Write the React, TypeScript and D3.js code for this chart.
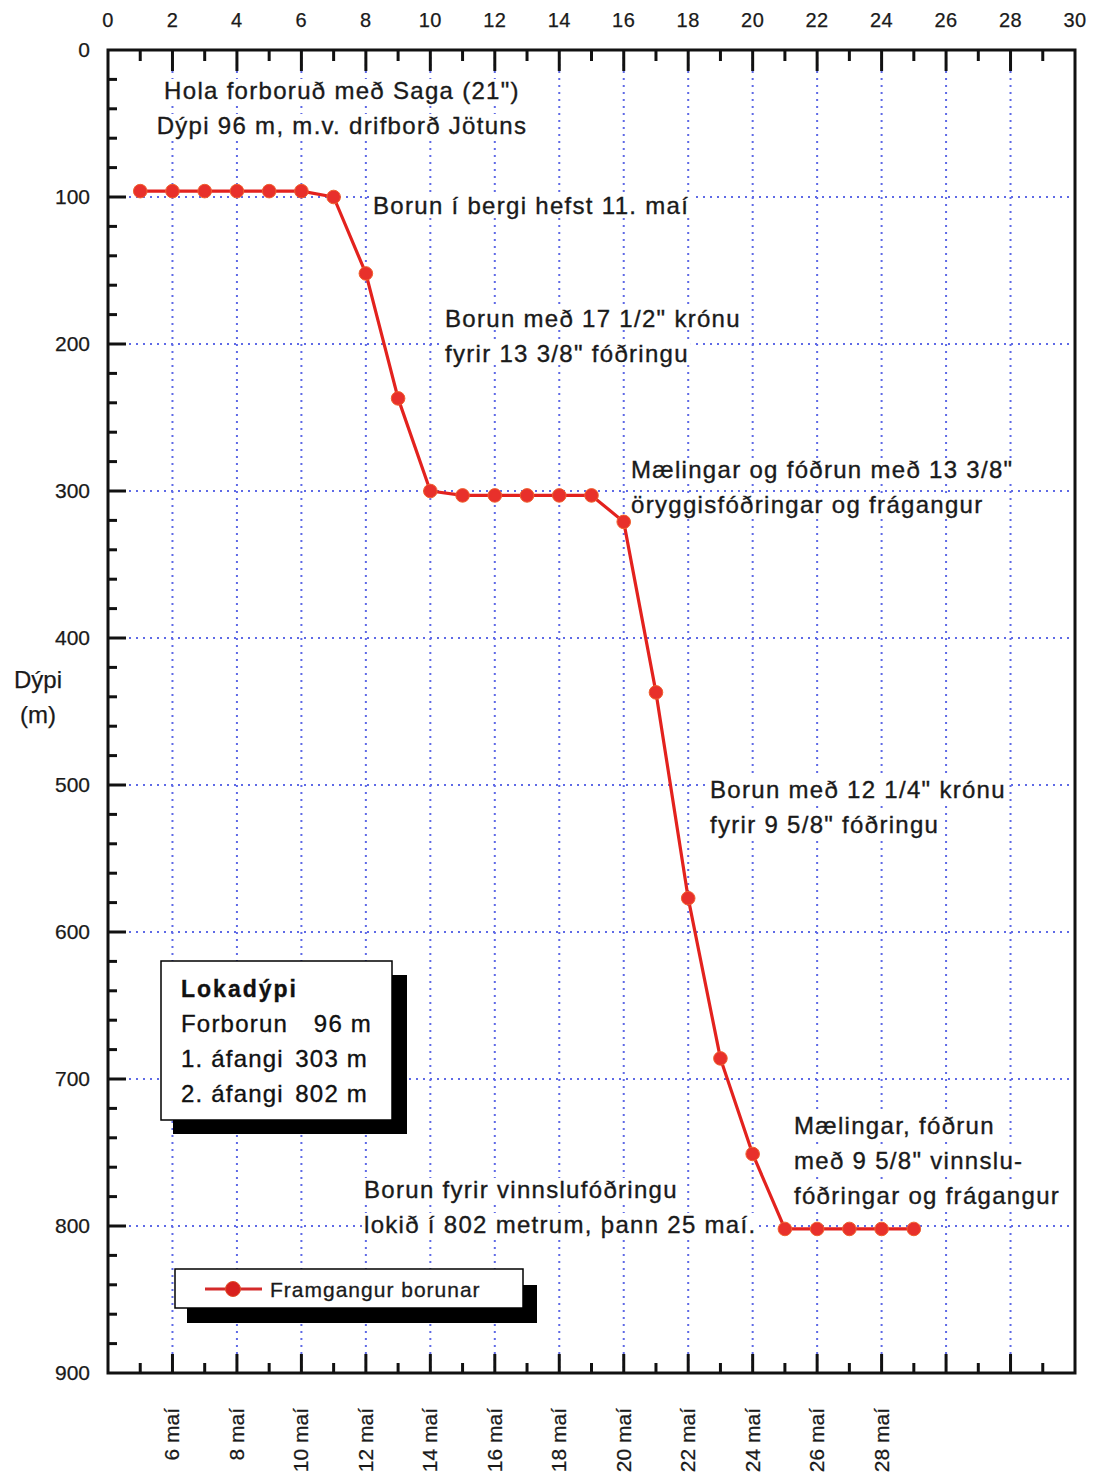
import React, { useEffect, useRef } from 'react';
import * as d3 from 'd3';

// ---- data ----
const dayIndex = [1, 2, 3, 4, 5, 6, 7, 8, 9, 10, 11, 12, 13, 14, 15, 16, 17, 18, 19, 20, 21, 22, 23, 24, 25];
const depthValues = [96, 96, 96, 96, 96, 96, 100, 152, 237, 300, 303, 303, 303, 303, 303, 321, 437, 577, 686, 751, 802, 802, 802, 802, 802];
const topTickValues = [0, 2, 4, 6, 8, 10, 12, 14, 16, 18, 20, 22, 24, 26, 28, 30];
const depthTickValues = [0, 100, 200, 300, 400, 500, 600, 700, 800, 900];
const gridXValues = [2, 4, 6, 8, 10, 12, 14, 16, 18, 20, 22, 24, 26, 28];
const gridYValues = [100, 200, 300, 400, 500, 600, 700, 800];
const dateTickValues = [2, 4, 6, 8, 10, 12, 14, 16, 18, 20, 22, 24];
const dateLabels = ['6 maí', '8 maí', '10 maí', '12 maí', '14 maí', '16 maí', '18 maí', '20 maí', '22 maí', '24 maí', '26 maí', '28 maí'];
const seriesName = 'Framgangur borunar';
const yAxisTitle = ['Dýpi', '(m)'];
const summaryTitle = 'Lokadýpi';
const summaryRows = [
  ['Forborun', '96 m'],
  ['1. áfangi', '303 m'],
  ['2. áfangi', '802 m'],
];

const FONT = '"Liberation Sans", Arial, Helvetica, sans-serif';

const W = 1094;
const H = 1479;
const M = { left: 108, right: 1075, top: 50, bottom: 1373 };

type Note = { lines: string[]; x: number; y: number; anchor?: string };
const notes: Note[] = [
  { lines: ['Hola forboruð með Saga (21")', 'Dýpi 96 m, m.v. drifborð Jötuns'], x: 342, y: 99, anchor: 'middle' },
  { lines: ['Borun í bergi hefst 11. maí'], x: 373, y: 214 },
  { lines: ['Borun með 17 1/2" krónu', 'fyrir 13 3/8" fóðringu'], x: 445, y: 327 },
  { lines: ['Mælingar og fóðrun með 13 3/8"', 'öryggisfóðringar og frágangur'], x: 631, y: 478 },
  { lines: ['Borun með 12 1/4" krónu', 'fyrir 9 5/8" fóðringu'], x: 710, y: 798 },
  { lines: ['Mælingar, fóðrun', 'með 9 5/8" vinnslu-', 'fóðringar og frágangur'], x: 794, y: 1134 },
  { lines: ['Borun fyrir vinnslufóðringu', 'lokið í 802 metrum, þann 25 maí.'], x: 364, y: 1198 },
];

export default function App() {
  const ref = useRef<SVGSVGElement | null>(null);

  useEffect(() => {
    const svg = d3.select(ref.current);
    svg.selectAll('*').remove();

    const x = d3.scaleLinear().domain([0, 30]).range([M.left, M.right]);
    const y = d3.scaleLinear().domain([0, 900]).range([M.top, M.bottom]);

    svg.append('rect').attr('width', W).attr('height', H).attr('fill', '#fff');

    // grid
    const grid = svg.append('g').attr('stroke', '#5f6ae6').attr('stroke-width', 2).attr('stroke-dasharray', '2,5');
    grid.selectAll('line.gx').data(gridXValues).join('line')
      .attr('x1', (d) => x(d)).attr('x2', (d) => x(d))
      .attr('y1', M.top).attr('y2', M.bottom);
    grid.selectAll('line.gy').data(gridYValues).join('line')
      .attr('x1', M.left).attr('x2', M.right)
      .attr('y1', (d) => y(d)).attr('y2', (d) => y(d));

    // annotations with white backgrounds
    const bgLayer = svg.append('g');
    const textLayer = svg.append('g').attr('font-family', FONT).attr('fill', '#1a1a1a')
      .attr('stroke', '#1a1a1a').attr('stroke-width', 0.35);
    notes.forEach((n) => {
      n.lines.forEach((line, i) => {
        const t = textLayer.append('text')
          .attr('x', n.x).attr('y', n.y + i * 35)
          .attr('font-size', 24)
          .attr('letter-spacing', 1.3)
          .attr('text-anchor', n.anchor || 'start')
          .text(line);
        const bb = (t.node() as SVGTextElement).getBBox();
        bgLayer.append('rect')
          .attr('x', bb.x - 2).attr('y', bb.y + 2)
          .attr('width', bb.width + 4).attr('height', bb.height - 4)
          .attr('fill', '#fff');
      });
    });

    // summary box
    const sb = svg.append('g').attr('font-family', FONT).attr('fill', '#111').attr('stroke', '#111').attr('stroke-width', 0.35);
    sb.append('rect').attr('x', 173).attr('y', 975).attr('width', 234).attr('height', 159).attr('fill', '#000').attr('stroke', 'none');
    sb.append('rect').attr('x', 161).attr('y', 961).attr('width', 231).attr('height', 159)
      .attr('fill', '#fff').attr('stroke', '#000').attr('stroke-width', 1.5);
    sb.append('text').attr('x', 181).attr('y', 997).attr('font-size', 23).attr('font-weight', 'bold')
      .attr('letter-spacing', 2).text(summaryTitle);
    summaryRows.forEach((r, i) => {
      sb.append('text').attr('x', 181).attr('y', 1032 + i * 35).attr('font-size', 24).attr('letter-spacing', 1.2).text(r[0]);
      sb.append('text').attr('x', i === 0 ? 372 : 368).attr('y', 1032 + i * 35).attr('font-size', 24)
        .attr('letter-spacing', 1.2).attr('text-anchor', 'end').text(r[1]);
    });

    // legend box
    const lg = svg.append('g').attr('font-family', FONT);
    lg.append('rect').attr('x', 187).attr('y', 1285).attr('width', 350).attr('height', 38).attr('fill', '#000');
    lg.append('rect').attr('x', 175).attr('y', 1269).attr('width', 348).attr('height', 39)
      .attr('fill', '#fff').attr('stroke', '#000').attr('stroke-width', 1.5);
    lg.append('line').attr('x1', 205).attr('x2', 262).attr('y1', 1289).attr('y2', 1289)
      .attr('stroke', '#d42a2a').attr('stroke-width', 3);
    lg.append('circle').attr('cx', 233).attr('cy', 1289).attr('r', 7.5).attr('fill', '#d8201e').attr('stroke', '#e0502a');
    lg.append('text').attr('x', 270).attr('y', 1297).attr('font-size', 21).attr('letter-spacing', 1)
      .attr('fill', '#1a1a1a').attr('stroke', '#1a1a1a').attr('stroke-width', 0.3).text(seriesName);

    // data line
    const pts = dayIndex.map((d, i) => [d, depthValues[i]] as [number, number]);
    const lineGen = d3.line<[number, number]>().x((d) => x(d[0])).y((d) => y(d[1]));
    svg.append('path').datum(pts).attr('d', lineGen).attr('fill', 'none')
      .attr('stroke', '#e3221e').attr('stroke-width', 3.2).attr('stroke-linejoin', 'round');
    svg.append('g').selectAll('circle').data(pts).join('circle')
      .attr('cx', (d) => x(d[0])).attr('cy', (d) => y(d[1])).attr('r', 6.8)
      .attr('fill', '#e8302b').attr('stroke', '#f0602e').attr('stroke-width', 1);

    // axes frame
    const ax = svg.append('g').attr('stroke', '#111').attr('stroke-width', 3);
    ax.append('rect').attr('x', M.left).attr('y', M.top).attr('width', M.right - M.left).attr('height', M.bottom - M.top)
      .attr('fill', 'none');
    const xAll = d3.range(1, 30);
    ax.selectAll('line.tt').data(xAll).join('line')
      .attr('x1', (d) => x(d)).attr('x2', (d) => x(d))
      .attr('y1', M.top).attr('y2', (d) => M.top + (d % 2 === 0 ? 21 : 11));
    ax.selectAll('line.bt').data(xAll).join('line')
      .attr('x1', (d) => x(d)).attr('x2', (d) => x(d))
      .attr('y1', M.bottom).attr('y2', (d) => M.bottom - (d % 2 === 0 ? 19 : 10));
    const yAll = d3.range(20, 900, 20);
    ax.selectAll('line.lt').data(yAll).join('line')
      .attr('y1', (d) => y(d)).attr('y2', (d) => y(d))
      .attr('x1', M.left).attr('x2', (d) => M.left + (d % 100 === 0 ? 18 : 9));

    // tick labels
    const lab = svg.append('g').attr('font-family', FONT).attr('fill', '#1a1a1a')
      .attr('stroke', '#1a1a1a').attr('stroke-width', 0.25);
    lab.selectAll('text.top').data(topTickValues).join('text')
      .attr('x', (d) => x(d)).attr('y', 27).attr('text-anchor', 'middle').attr('font-size', 20)
      .attr('letter-spacing', 0.5)
      .text((d) => String(d));
    lab.selectAll('text.left').data(depthTickValues).join('text')
      .attr('x', 90).attr('y', (d) => y(d) + 7).attr('text-anchor', 'end').attr('font-size', 21)
      .text((d) => String(d));
    lab.selectAll('text.date').data(dateTickValues).join('text')
      .attr('transform', (d) => `translate(${x(d) + 7},1408) rotate(-90)`)
      .attr('text-anchor', 'end').attr('font-size', 21)
      .text((d, i) => dateLabels[i]);
    yAxisTitle.forEach((t, i) => {
      lab.append('text').attr('x', 38).attr('y', 688 + i * 35).attr('text-anchor', 'middle')
        .attr('font-size', 24).text(t);
    });
  }, []);

  return (
    <svg ref={ref} width={W} height={H} style={{ position: 'absolute', left: 0, top: 0, display: 'block' }} />
  );
}
